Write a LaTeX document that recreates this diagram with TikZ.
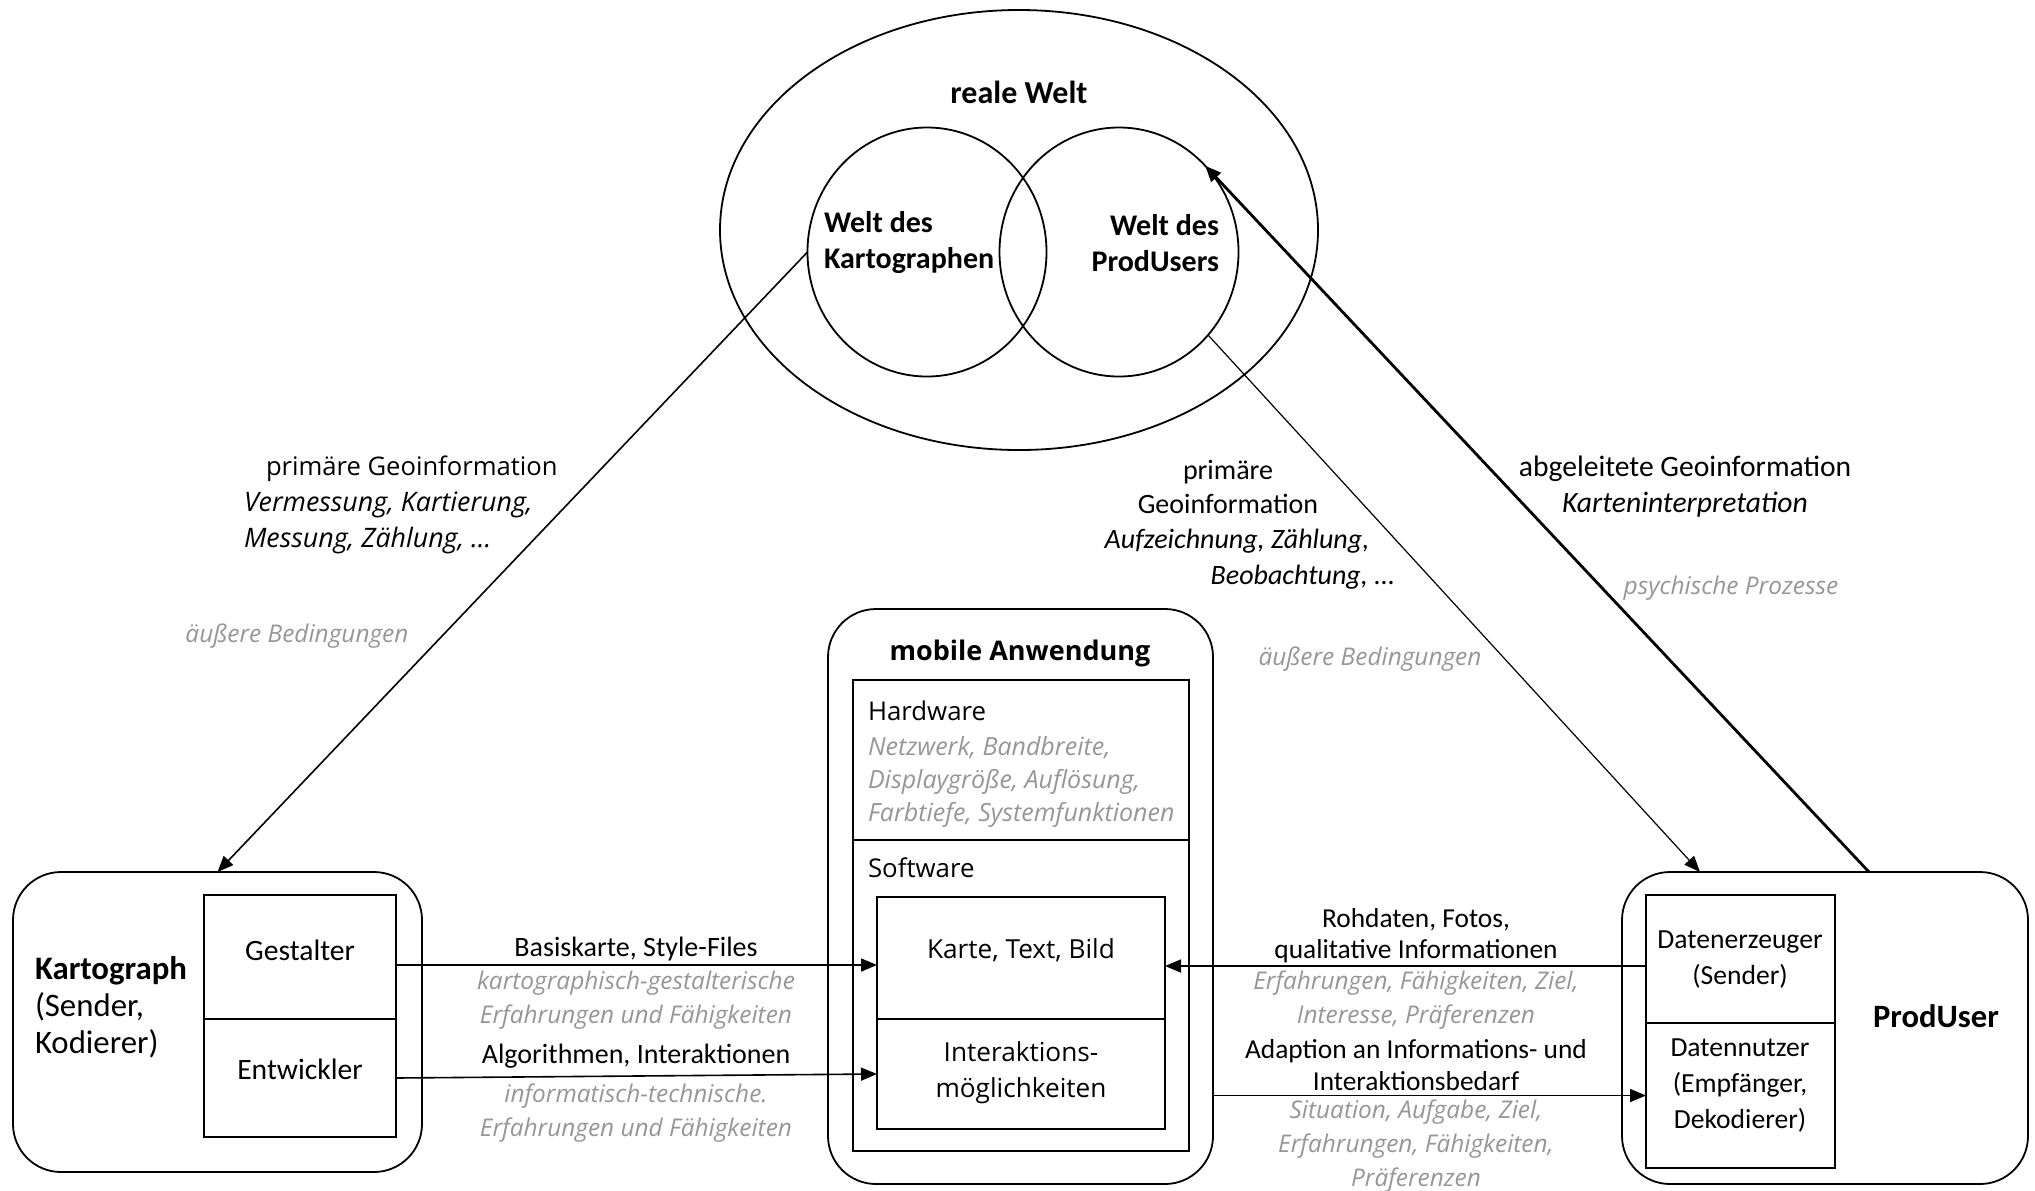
\documentclass[tikz,border=0pt]{standalone}
\usepackage{fontspec}
\setmainfont{Carlito}
\newfontfamily\segoe{Open Sans}
\usetikzlibrary{arrows.meta,fit,shapes.geometric}
\definecolor{txtgray}{RGB}{150,150,150}
\begin{document}
\begin{tikzpicture}[x=0.5pt,y=-0.5pt,
  every node/.style={inner sep=0pt, outer sep=0pt},
  txt/.style={font=\fontsize{14}{17}\selectfont, align=center},
  ctxt/.style={font=\fontsize{13.7}{15.6}\selectfont, align=center},
  itxt/.style={font=\fontsize{14}{17}\selectfont\itshape, align=center},
  gtxt/.style={font=\segoe\fontsize{12.2}{16.8}\selectfont\itshape, text=txtgray, align=center},
  btxt/.style={font=\fontsize{16}{18}\selectfont\bfseries},
  stxt/.style={font=\segoe\fontsize{12.9}{17}\selectfont},
  sgtxt/.style={font=\segoe\fontsize{12.5}{16.3}\selectfont\itshape, text=txtgray, align=left},
  world/.style={draw, ellipse, line width=0.9pt},
  rbox/.style={draw, rounded corners=24pt, line width=0.9pt, inner sep=0pt},
  cell/.style={draw, line width=0.8pt, inner sep=0pt},
  conn/.style={draw, line width=0.8pt, -{Triangle[length=8pt,width=6.5pt]}},
]
\useasboundingbox (0,0) rectangle (2035,1190);

% --- worlds ---
\node[world, minimum width=299pt, minimum height=220pt] (rw) at (1019,230) {};
\node[world, minimum width=119.5pt, minimum height=124.5pt] (lc) at (927,252) {};
\node[world, minimum width=119.5pt, minimum height=124.5pt] (rc) at (1119,252) {};
\node[btxt] (rwt) at (1019,92) {reale Welt};
\node[font=\fontsize{15}{18}\selectfont\bfseries, align=left, anchor=west] (lct) at (824,243) {Welt des\\Kartographen};
\node[font=\fontsize{15}{18}\selectfont\bfseries, align=right, anchor=east] (rct) at (1219,243) {Welt des\\ProdUsers};

% --- Kartograph ---
\node[rbox, fit={(13,872) (422,1172)}] (kbox) {};
\node[cell, fit={(204,895) (396,1019)}] (gest) {};
\node[cell, fit={(204,1019) (396,1137)}] (entw) {};
\node[font=\fontsize{14.8}{17}\selectfont] (gestt) at (300,950) {Gestalter};
\node[font=\fontsize{14.8}{17}\selectfont] (entwt) at (300,1069) {Entwickler};
\node[font=\fontsize{16.4}{18.5}\selectfont, align=left, anchor=west] (kt) at (35,1007)
  {\textbf{Kartograph}\\(Sender,\\Kodierer)};

% --- mobile Anwendung ---
\node[rbox, fit={(828,609) (1213,1184)}] (mbox) {};
\node[cell, fit={(853,680) (1189,840)}] (hw) {};
\node[cell, fit={(853,840) (1189,1151)}] (sw) {};
\node[cell, fit={(877,897) (1165,1019)}] (karte) {};
\node[cell, fit={(877,1019) (1165,1129)}] (inter) {};
\node[font=\segoe\fontsize{13.5}{16}\selectfont\bfseries] (mt) at (1020,653) {mobile Anwendung};
\node[stxt, anchor=west] (hwt) at (868,711) {Hardware};
\node[sgtxt, anchor=west] (hwg) at (868,782)
  {Netzwerk, Bandbreite,\\Displaygröße, Auflösung,\\Farbtiefe, Systemfunktionen};
\node[stxt, anchor=west] (swt) at (868,868) {Software};
\node[font=\segoe\fontsize{13.1}{17}\selectfont] (kartet) at (1021,950) {Karte, Text, Bild};
\node[font=\segoe\fontsize{13.1}{18}\selectfont, align=center] (intert) at (1021,1073) {Interaktions-\\möglichkeiten};

% --- ProdUser ---
\node[rbox, fit={(1622,872) (2028,1184)}] (pbox) {};
\node[cell, fit={(1646,895) (1835,1023)}] (dez) {};
\node[cell, fit={(1646,1023) (1835,1168)}] (dnu) {};
\node[font=\fontsize{13.8}{18}\selectfont, align=center] (dezt) at (1740,960) {Datenerzeuger\\(Sender)};
\node[font=\fontsize{13.8}{18}\selectfont, align=center] (dnut) at (1740,1086) {Datennutzer\\(Empfänger,\\Dekodierer)};
\node[font=\fontsize{16.3}{18}\selectfont\bfseries] (pt) at (1936,1016) {ProdUser};

% --- diagonal flows ---
\draw[conn] (lc.west) -- (kbox.north);
\draw[conn, line width=0.6pt] (rc.-43) -- ([xshift=39pt]pbox.north west);
\draw[conn, line width=1.4pt] ([xshift=123.5pt]pbox.north west) -- (rc.45);

\node[font=\segoe\fontsize{12.8}{18}\selectfont, align=left, anchor=west] (d1) at (244,505)
  {\hspace*{11pt}primäre Geoinformation\\{\fontsize{13.4}{18}\selectfont\itshape Vermessung, Kartierung,}\\{\fontsize{13.4}{18}\selectfont\itshape Messung, Zählung, ...}};
\node[gtxt] (d2) at (297,636) {äußere Bedingungen};

\node[txt] (m1) at (1228,487) {primäre\\Geoinformation};
\node[itxt] (m2) at (1237,541) {Aufzeichnung, Zählung,};
\node[itxt] (m3) at (1303,577) {Beobachtung, ...};
\node[gtxt] (m4) at (1370,659) {äußere Bedingungen};

\node[font=\fontsize{14.8}{18}\selectfont, align=center] (a1) at (1685,487) {abgeleitete Geoinformation\\\textit{Karteninterpretation}};
\node[gtxt] (a2) at (1731,588) {psychische Prozesse};

% --- horizontal flows ---
\draw[conn] ([yshift=-4pt]gest.east) -- ([yshift=-4pt]gest.east -| karte.west);
\draw[conn] (entw.east) -- (inter.west);
\draw[conn] ([yshift=-3.5pt]dez.west) -- ([yshift=-3.5pt]dez.west -| karte.east);
\draw[conn] (dnu.west -| mbox.east) -- (dnu.west);

\node[txt] (l1) at (636,949) {Basiskarte, Style-Files};
\node[gtxt] (l2) at (636,1000) {kartographisch-gestalterische\\Erfahrungen und Fähigkeiten};
\node[txt] (l3) at (636,1056) {Algorithmen, Interaktionen};
\node[gtxt] (l4) at (636,1113) {informatisch-technische.\\Erfahrungen und Fähigkeiten};

\node[ctxt] (r1) at (1416,936) {Rohdaten, Fotos,\\qualitative Informationen};
\node[gtxt] (r2) at (1416,1000) {Erfahrungen, Fähigkeiten, Ziel,\\Interesse, Präferenzen};
\node[ctxt] (r3) at (1416,1065) {Adaption an Informations- und\\Interaktionsbedarf};
\node[gtxt] (r4) at (1416,1146) {Situation, Aufgabe, Ziel,\\Erfahrungen, Fähigkeiten,\\Präferenzen};
\end{tikzpicture}
\end{document}
